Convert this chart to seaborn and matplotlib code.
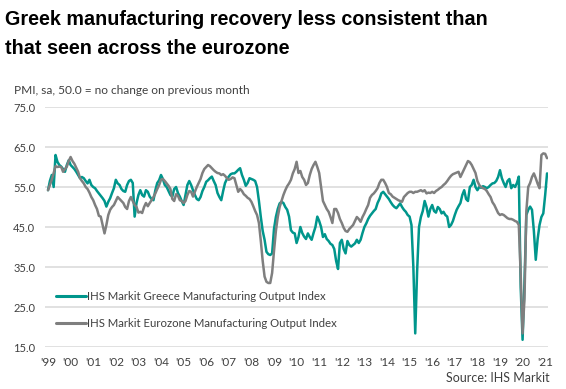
import numpy as np
import pandas as pd
import matplotlib
matplotlib.use("Agg")
import matplotlib.pyplot as plt
import seaborn as sns

# ---- data (monthly) ----
year_labels = ["'99", "'00", "'01", "'02", "'03", "'04", "'05", "'06", "'07", "'08", "'09",
               "'10", "'11", "'12", "'13", "'14", "'15", "'16", "'17", "'18", "'19", "'20", "'21"]

greece = [
    54.2, 56.5, 58, 55, 63, 61.3, 60.5, 60.1, 59.5, 58.8, 60.5, 61.7,      # 1999
    60.5, 60, 59.5, 58.8, 58, 57.2, 57.5, 57.2, 56.5, 55.9, 56.8, 55.5,    # 2000
    55, 54.7, 54, 53.4, 52.8, 52.2, 51.5, 50.1, 51.3, 52.2, 53.5, 54.7,    # 2001
    56.8, 55.9, 55.5, 54.5, 54, 53.8, 55.5, 56.5, 56.8, 56, 47.6, 51,      # 2002
    53, 54.2, 53, 52.6, 54.2, 53.8, 52.6, 52, 51.7, 54.2, 56, 56.7,        # 2003
    58, 57, 55.5, 55, 54, 53, 52.6, 54.5, 55, 53.5, 52.6, 51.5,            # 2004
    50.5, 53, 55.5, 56.5, 55.5, 54.2, 53, 52, 51.7, 52.5, 54, 55,          # 2005
    56.3, 56.7, 57.2, 57.6, 56.5, 55.5, 53.5, 52.5, 51.7, 54, 56, 57,      # 2006
    57.6, 58.2, 58.4, 58.4, 58.8, 59.3, 59.7, 58, 56.8, 55.3, 56, 57.2,    # 2007
    57, 56.8, 56.5, 55, 51.5, 47.5, 44, 41.8, 38.8, 38.2, 38, 38.4,        # 2008
    44.5, 47.5, 49.5, 50.9, 51.3, 51, 50, 49.3, 47.6, 44.2, 43.6, 43.4,    # 2009
    41, 42.5, 45, 43.5, 42.6, 42, 43.4, 42.5, 41.8, 43.5, 45, 47.6,        # 2010
    46.5, 45, 42.5, 43.2, 42, 41.5, 40.8, 40.5, 39.5, 36.5, 34.5, 41,      # 2011
    41.8, 39.5, 38.4, 41.5, 40.5, 40.1, 40.5, 40.9, 41.8, 41, 41.8, 43.5,  # 2012
    45, 45.9, 47, 47.8, 48.4, 49, 49.5, 51, 52, 53.4, 53.8, 53.2,          # 2013
    52.6, 52, 51.2, 50.5, 50, 49.7, 50.3, 50.9, 50, 49.3, 48.8, 48,        # 2014
    47.6, 45.5, 35, 18.4, 34, 45, 47.5, 49, 51.5, 50, 47.6, 49.5,          # 2015
    50.5, 49, 48.6, 50, 49.5, 48.4, 48.8, 48, 47.6, 45, 45.5, 46.5,        # 2016
    48, 49.3, 50.2, 51, 53, 54.2, 52, 51.5, 55, 55.5, 56.8, 55,            # 2017
    54.2, 55, 54.8, 55.2, 55, 54.7, 55, 55.5, 55.9, 56, 56.5, 57.5,        # 2018
    59.2, 57.2, 56, 55, 56.5, 57, 54.7, 55.5, 55, 56, 57.6, 30,            # 2019
    16.8, 31, 48, 49.3, 50.1, 49.3, 44, 36.8, 42, 45.5, 47.5, 48.4,        # 2020
    53, 58.4,                                                              # 2021
]

eurozone = [
    54.2, 55.5, 56.8, 58.5, 60.2, 60, 60.1, 60, 58.8, 59.5, 60.1, 61.5,    # 1999
    62.5, 61.5, 60.8, 59.8, 58.8, 57.2, 56.5, 55.9, 55, 54.5, 53.6, 52.5,  # 2000
    51.7, 50.5, 49.5, 47.8, 47.6, 45.5, 43.4, 45.5, 48, 49.3, 50, 50.5,    # 2001
    51.5, 52.5, 52, 51.5, 51, 50, 49.5, 51.5, 52.5, 51.5, 50.5, 50,        # 2002
    48.6, 48.8, 48.5, 50, 51, 50.2, 51, 51.7, 52.5, 53.4, 54.5, 55.5,      # 2003
    56.8, 57, 56.5, 55.9, 55.3, 54.5, 52, 51.5, 53.2, 52.8, 51.7, 51.5,    # 2004
    51, 51.5, 53, 54, 53.8, 52.6, 53.8, 55, 56, 57, 58.5, 59.5,            # 2005
    60, 60.5, 60.2, 59.7, 59.2, 58.8, 58.5, 58.4, 58, 58.2, 57.8, 57.2,    # 2006
    56.8, 57, 57.4, 57.2, 55.5, 53.8, 54.5, 54, 53.2, 52.8, 52.3, 52,      # 2007
    51.3, 50.2, 49, 48, 46, 41.5, 36.5, 32.6, 31.3, 31, 31, 33.5,          # 2008
    39, 44, 47.5, 50, 51.5, 53, 54.2, 55.2, 55.9, 56.8, 58.4, 59.5,        # 2009
    61.3, 58.5, 59, 57.5, 56.8, 55.5, 56, 58, 59.5, 60.5, 61.3, 60,        # 2010
    58.5, 55, 51.5, 50.5, 49.5, 48.8, 47.5, 46, 49.5, 49.5, 48.5, 47,      # 2011
    46, 44.8, 44, 43.8, 44.5, 45, 45.5, 46.5, 47.5, 47, 46.3, 47.5,        # 2012
    48.4, 49.5, 50.5, 52.3, 53, 53.4, 54, 54.7, 56, 56.8, 56.8, 56,        # 2013
    55, 53.5, 53.2, 52.6, 52.3, 52, 51.7, 51.5, 51.3, 52.5, 53, 53.5,      # 2014
    53.8, 53.8, 53.5, 53.8, 53.8, 54, 54.2, 53.9, 54.2, 53.4, 53.6, 53.5,  # 2015
    53.8, 53.5, 54, 54.3, 54.7, 55, 55.5, 55.9, 56.5, 57.2, 57.8, 58.2,    # 2016
    58.4, 58.6, 58.8, 57.5, 58.5, 59.5, 60.5, 61.5, 61.2, 60.5, 59.5, 58.5,  # 2017
    56.5, 55.5, 55, 54.7, 54.5, 54, 53.2, 52.5, 51.2, 50.5, 49.5, 48.5,    # 2018
    48, 48.2, 48, 47.6, 47.2, 47, 47, 46.8, 46.5, 46.3, 45.5, 33,          # 2019
    18.4, 27, 49, 55, 56, 57.5, 58.4, 57.2, 55.8, 54.7, 63, 63.4,          # 2020
    63.3, 62.2,                                                            # 2021
]

series_names = ["IHS Markit Greece Manufacturing Output Index",
                "IHS Markit Eurozone Manufacturing Output Index"]
series_colors = ["#00968C", "#7F7F7F"]
y_ticks = [15, 25, 35, 45, 55, 65, 75]

# ---- build tidy frame ----
n = len(greece)
month = np.arange(n)
df = pd.DataFrame({
    "month": np.concatenate([month, month]),
    "value": greece + eurozone,
    "series": [series_names[0]] * n + [series_names[1]] * len(eurozone),
})

sns.set_theme(style="white")
plt.rcParams["font.family"] = ["Lato", "DejaVu Sans"]

W, H = 566, 389
fig = plt.figure(figsize=(W / 100, H / 100), dpi=100)
ax = fig.add_axes([45 / W, 1 - 347 / H, (548 - 45) / W, (347 - 107) / H])

sns.lineplot(data=df, x="month", y="value", hue="series", hue_order=series_names,
             palette=series_colors, linewidth=1.8, ax=ax, legend=False)

ax.set_xlim(-1.6, 265.5)
ax.set_ylim(15, 75)
ax.set_yticks(y_ticks)
ax.set_yticklabels([f"{v:.1f}" for v in y_ticks])
ax.set_xticks(np.arange(len(year_labels)) * 12)
ax.set_xticklabels(year_labels)
ax.set_xlabel("")
ax.set_ylabel("")

ax.yaxis.grid(True, color="#D9D9D9", linewidth=1.1)
ax.xaxis.grid(False)
ax.set_axisbelow(True)
for s in ax.spines.values():
    s.set_visible(False)
ax.tick_params(axis="y", length=0, pad=7, labelsize=8, labelcolor="#404040")
ax.tick_params(axis="x", length=0, pad=7, labelsize=8.5, labelcolor="#404040")

leg = ax.legend(ax.lines[:2], series_names, loc="upper left",
                bbox_to_anchor=(56 / W, 1 - 291 / H), bbox_transform=fig.transFigure,
                frameon=False, fontsize=8.2, handlelength=2.6, handletextpad=0.1,
                labelspacing=1.4, borderpad=0, borderaxespad=0, labelcolor="#404040")
for h in leg.get_lines():
    h.set_linewidth(2.2)

fig.text(5 / W, 1 - 25 / H, "Greek manufacturing recovery less consistent than",
         fontsize=14.2, fontweight="bold", family=["Liberation Sans", "DejaVu Sans"],
         color="#000000", va="baseline", ha="left")
fig.text(5 / W, 1 - 53.5 / H, "that seen across the eurozone",
         fontsize=14.2, fontweight="bold", family=["Liberation Sans", "DejaVu Sans"],
         color="#000000", va="baseline", ha="left")
fig.text(14 / W, 1 - 94 / H, "PMI, sa, 50.0 = no change on previous month",
         fontsize=8.6, color="#404040", va="baseline", ha="left")
fig.text(550 / W, 1 - 382 / H, "Source: IHS Markit",
         fontsize=9, color="#404040", va="baseline", ha="right")

fig.savefig("out.png", dpi=100)
